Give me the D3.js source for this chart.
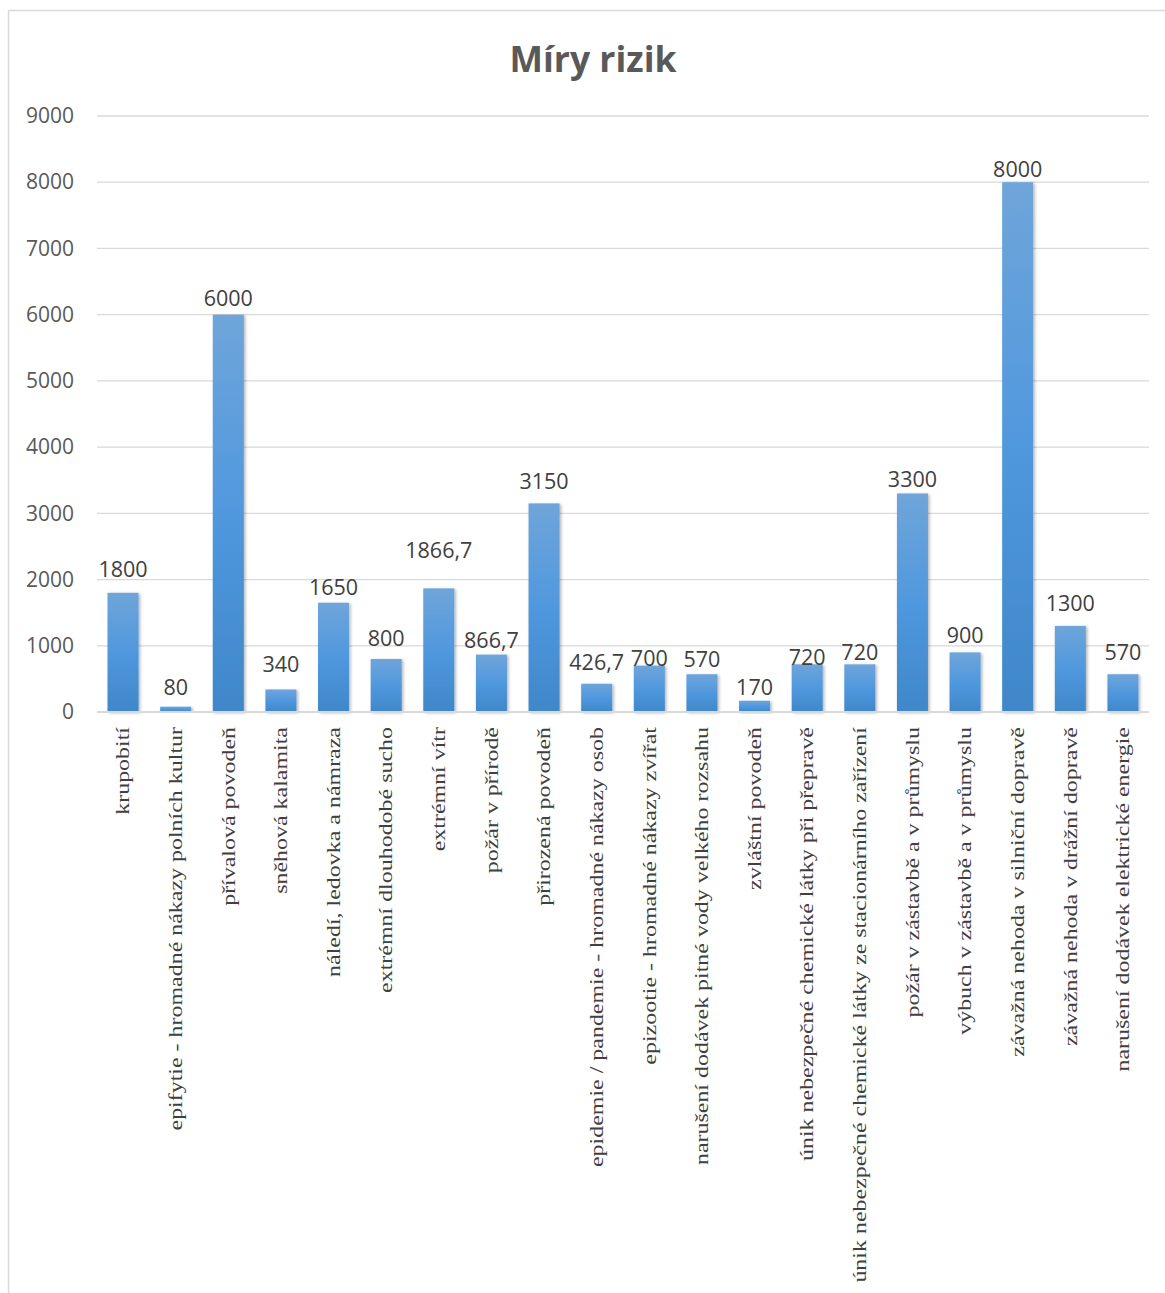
<!DOCTYPE html>
<html>
<head>
<meta charset="utf-8">
<script src="https://cdn.jsdelivr.net/npm/d3@7"></script>
<style>
  body { margin: 0; background: #fff; }
  svg { display: block; }
</style>
</head>
<body>
<svg id="chart" width="1165" height="1293"></svg>
<script>
const categories = [
  "krupobití",
  "epifytie - hromadné nákazy polních kultur",
  "přívalová povodeň",
  "sněhová kalamita",
  "náledí, ledovka a námraza",
  "extrémní dlouhodobé sucho",
  "extrémní vítr",
  "požár v přírodě",
  "přirozená povodeň",
  "epidemie / pandemie - hromadné nákazy osob",
  "epizootie - hromadné nákazy zvířat",
  "narušení dodávek pitné vody velkého rozsahu",
  "zvláštní povodeň",
  "únik nebezpečné chemické látky při přepravě",
  "únik nebezpečné chemické látky ze stacionárního zařízení",
  "požár v zástavbě a v průmyslu",
  "výbuch v zástavbě a v průmyslu",
  "závažná nehoda v silniční dopravě",
  "závažná nehoda v drážní dopravě",
  "narušení dodávek elektrické energie",
];
const values = [1800, 80, 6000, 340, 1650, 800, 1866.7, 866.7, 3150, 426.7, 700, 570, 170, 720, 720, 3300, 900, 8000, 1300, 570];
const yTicks = [0, 1000, 2000, 3000, 4000, 5000, 6000, 7000, 8000, 9000];
// label gap above each bar (px), as placed in the original
const labelGap = [16, 12, 9, 17, 8, 13, 30, 7, 14, 14, 0, 7, 6, -1, 4, 6, 9, 5, 15, 14];

const svg = d3.select("#chart");
const margin = { top: 116, left: 97, right: 16, bottom: 581 };
const width = 1165 - margin.left - margin.right;
const height = 1293 - margin.top - margin.bottom;

// chart frame
svg.append("rect")
  .attr("x", 8.5).attr("y", 10.5)
  .attr("width", 1200).attr("height", 1400)
  .attr("fill", "#fff").attr("stroke", "#d9d9d9").attr("stroke-width", 1.5);

const defs = svg.append("defs");
const grad = defs.append("linearGradient")
  .attr("id", "barGrad").attr("x1", 0).attr("y1", 0).attr("x2", 0).attr("y2", 1);
grad.append("stop").attr("offset", "0%").attr("stop-color", "#6fa5da");
grad.append("stop").attr("offset", "50%").attr("stop-color", "#5098de");
grad.append("stop").attr("offset", "100%").attr("stop-color", "#3f87c9");

const shadow = defs.append("filter").attr("id", "shadow")
  .attr("x", "-20%").attr("y", "-5%").attr("width", "150%").attr("height", "115%");
shadow.append("feDropShadow")
  .attr("dx", 1.5).attr("dy", 1).attr("stdDeviation", 1.5)
  .attr("flood-color", "#000").attr("flood-opacity", 0.3);

svg.append("text")
  .attr("x", 593).attr("y", 72)
  .attr("text-anchor", "middle")
  .style("font-family", "'Open Sans', sans-serif")
  .style("font-weight", "bold")
  .style("font-size", "35.5px")
  .style("fill", "#595959")
  .text("Míry rizik");

const g = svg.append("g").attr("transform", `translate(${margin.left},${margin.top})`);

const x = d3.scaleBand().domain(categories).range([0, width]).paddingInner(0.41).paddingOuter(0.2);
const y = d3.scaleLinear().domain([0, 9000]).range([height, 0]);

// gridlines
g.append("g")
  .selectAll("line")
  .data(yTicks.slice(1))
  .enter()
  .append("line")
  .attr("x1", 0).attr("x2", width)
  .attr("y1", (d) => y(d)).attr("y2", (d) => y(d))
  .attr("stroke", "#d9d9d9").attr("stroke-width", 1.3);

// y axis labels
const yAxis = g.append("g")
  .call(d3.axisLeft(y).tickValues(yTicks).tickSize(0).tickPadding(23).tickFormat(d3.format("d")));
yAxis.select(".domain").remove();
yAxis.selectAll("text")
  .style("font-family", "'Open Sans', sans-serif")
  .style("font-size", "21px")
  .style("fill", "#595959");

// bars
g.selectAll(".bar")
  .data(values)
  .enter()
  .append("rect")
  .attr("class", "bar")
  .attr("x", (d, i) => x(categories[i]))
  .attr("y", (d) => y(d))
  .attr("width", x.bandwidth())
  .attr("height", (d) => height - y(d))
  .attr("fill", "url(#barGrad)")
  .attr("filter", "url(#shadow)");

// baseline
g.append("line")
  .attr("x1", 0).attr("x2", width)
  .attr("y1", height).attr("y2", height)
  .attr("stroke", "#d9d9d9").attr("stroke-width", 2);

// value labels
const fmt = (d) => String(d).replace(".", ",");
g.selectAll(".val")
  .data(values)
  .enter()
  .append("text")
  .attr("class", "val")
  .attr("x", (d, i) => x(categories[i]) + x.bandwidth() / 2)
  .attr("y", (d, i) => y(d) - labelGap[i])
  .attr("text-anchor", "middle")
  .style("font-family", "'Open Sans', sans-serif")
  .style("font-size", "21.5px")
  .style("fill", "#404040")
  .text(fmt);

// category labels
g.append("g")
  .selectAll("text")
  .data(categories)
  .enter()
  .append("text")
  .attr("transform", (d) => `translate(${x(d) + x.bandwidth() / 2},${height + 15}) rotate(-90) scale(1.26,1)`)
  .attr("text-anchor", "end")
  .attr("dy", "0.33em")
  .style("font-family", "'Liberation Serif', 'Times New Roman', serif")
  .style("font-size", "19px")
  .style("fill", "#404040")
  .text((d) => d);
</script>
</body>
</html>
